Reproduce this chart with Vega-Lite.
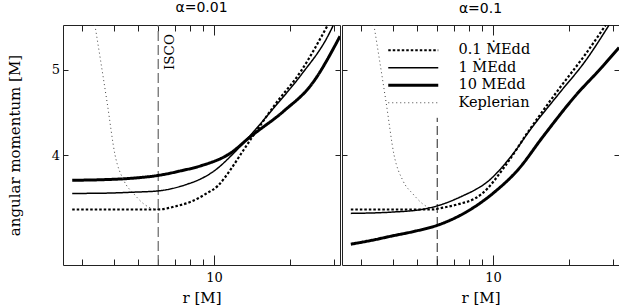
{
  "$schema": "https://vega.github.io/schema/vega-lite/v6.json",
  "background": "white",
  "padding": {"left": 7, "top": 1, "right": 0, "bottom": 0},
  "spacing": 0,
  "datasets": {
    "curves": [
      {"p": "L", "s": "0.1", "r": 2.733, "l": 3.469},
      {"p": "L", "s": "0.1", "r": 4.257, "l": 3.469},
      {"p": "L", "s": "0.1", "r": 6.0, "l": 3.469},
      {"p": "L", "s": "0.1", "r": 7.05, "l": 3.499},
      {"p": "L", "s": "0.1", "r": 8.091, "l": 3.54},
      {"p": "L", "s": "0.1", "r": 9.284, "l": 3.615},
      {"p": "L", "s": "0.1", "r": 10.36, "l": 3.692},
      {"p": "L", "s": "0.1", "r": 11.68, "l": 3.859},
      {"p": "L", "s": "0.1", "r": 12.8, "l": 4.014},
      {"p": "L", "s": "0.1", "r": 14.03, "l": 4.175},
      {"p": "L", "s": "0.1", "r": 17.33, "l": 4.553},
      {"p": "L", "s": "0.1", "r": 22.19, "l": 4.989},
      {"p": "L", "s": "0.1", "r": 28.18, "l": 5.613},
      {"p": "L", "s": "1", "r": 2.733, "l": 3.618},
      {"p": "L", "s": "1", "r": 3.543, "l": 3.62},
      {"p": "L", "s": "1", "r": 4.667, "l": 3.629},
      {"p": "L", "s": "1", "r": 6.034, "l": 3.643},
      {"p": "L", "s": "1", "r": 7.849, "l": 3.708},
      {"p": "L", "s": "1", "r": 8.875, "l": 3.76},
      {"p": "L", "s": "1", "r": 10.02, "l": 3.839},
      {"p": "L", "s": "1", "r": 12.04, "l": 4.028},
      {"p": "L", "s": "1", "r": 13.77, "l": 4.197},
      {"p": "L", "s": "1", "r": 17.37, "l": 4.535},
      {"p": "L", "s": "1", "r": 22.19, "l": 4.937},
      {"p": "L", "s": "1", "r": 28.35, "l": 5.467},
      {"p": "L", "s": "1", "r": 29.69, "l": 5.613},
      {"p": "L", "s": "10", "r": 2.733, "l": 3.745},
      {"p": "L", "s": "10", "r": 3.543, "l": 3.75},
      {"p": "L", "s": "10", "r": 4.667, "l": 3.764},
      {"p": "L", "s": "10", "r": 6.034, "l": 3.794},
      {"p": "L", "s": "10", "r": 7.387, "l": 3.839},
      {"p": "L", "s": "10", "r": 8.875, "l": 3.89},
      {"p": "L", "s": "10", "r": 11.68, "l": 4.025},
      {"p": "L", "s": "10", "r": 13.77, "l": 4.186},
      {"p": "L", "s": "10", "r": 18.99, "l": 4.493},
      {"p": "L", "s": "10", "r": 24.33, "l": 4.81},
      {"p": "L", "s": "10", "r": 31.62, "l": 5.46},
      {"p": "B", "s": "Keplerian", "r": 3.363, "l": 5.623},
      {"p": "B", "s": "Keplerian", "r": 3.543, "l": 5.122},
      {"p": "B", "s": "Keplerian", "r": 3.768, "l": 4.573},
      {"p": "B", "s": "Keplerian", "r": 4.041, "l": 4.004},
      {"p": "B", "s": "Keplerian", "r": 4.387, "l": 3.74},
      {"p": "B", "s": "Keplerian", "r": 4.81, "l": 3.612},
      {"p": "B", "s": "Keplerian", "r": 5.272, "l": 3.518},
      {"p": "B", "s": "Keplerian", "r": 5.779, "l": 3.473},
      {"p": "B", "s": "Keplerian", "r": 6.0, "l": 3.469},
      {"p": "R", "s": "0.1", "r": 2.723, "l": 3.469},
      {"p": "R", "s": "0.1", "r": 4.0, "l": 3.469},
      {"p": "R", "s": "0.1", "r": 5.709, "l": 3.469},
      {"p": "R", "s": "0.1", "r": 6.26, "l": 3.484},
      {"p": "R", "s": "0.1", "r": 7.293, "l": 3.518},
      {"p": "R", "s": "0.1", "r": 8.492, "l": 3.572},
      {"p": "R", "s": "0.1", "r": 9.031, "l": 3.615},
      {"p": "R", "s": "0.1", "r": 11.18, "l": 3.89},
      {"p": "R", "s": "0.1", "r": 13.86, "l": 4.263},
      {"p": "R", "s": "0.1", "r": 18.26, "l": 4.756},
      {"p": "R", "s": "0.1", "r": 23.3, "l": 5.212},
      {"p": "R", "s": "0.1", "r": 27.99, "l": 5.623},
      {"p": "R", "s": "1", "r": 2.723, "l": 3.434},
      {"p": "R", "s": "1", "r": 3.993, "l": 3.446},
      {"p": "R", "s": "1", "r": 5.209, "l": 3.47},
      {"p": "R", "s": "1", "r": 5.996, "l": 3.502},
      {"p": "R", "s": "1", "r": 7.749, "l": 3.606},
      {"p": "R", "s": "1", "r": 8.492, "l": 3.653},
      {"p": "R", "s": "1", "r": 9.605, "l": 3.74},
      {"p": "R", "s": "1", "r": 10.36, "l": 3.819},
      {"p": "R", "s": "1", "r": 12.26, "l": 4.046},
      {"p": "R", "s": "1", "r": 13.86, "l": 4.252},
      {"p": "R", "s": "1", "r": 18.26, "l": 4.698},
      {"p": "R", "s": "1", "r": 23.3, "l": 5.122},
      {"p": "R", "s": "1", "r": 28.88, "l": 5.623},
      {"p": "R", "s": "10", "r": 2.723, "l": 3.168},
      {"p": "R", "s": "10", "r": 3.293, "l": 3.2},
      {"p": "R", "s": "10", "r": 3.993, "l": 3.238},
      {"p": "R", "s": "10", "r": 4.884, "l": 3.277},
      {"p": "R", "s": "10", "r": 5.996, "l": 3.328},
      {"p": "R", "s": "10", "r": 7.749, "l": 3.441},
      {"p": "R", "s": "10", "r": 10.06, "l": 3.625},
      {"p": "R", "s": "10", "r": 12.65, "l": 3.859},
      {"p": "R", "s": "10", "r": 15.66, "l": 4.186},
      {"p": "R", "s": "10", "r": 21.26, "l": 4.674},
      {"p": "R", "s": "10", "r": 27.16, "l": 5.042},
      {"p": "R", "s": "10", "r": 31.62, "l": 5.3}
    ],
    "isco": [
      {"p": "L", "r": 6, "lo": 3, "hi": 5.623, "label": "ISCO"},
      {"p": "R", "r": 6, "lo": 3, "hi": 4.41, "label": ""}
    ]
  },
  "config": {
    "view": {"stroke": null},
    "font": "DejaVu Serif",
    "axis": {
      "domainColor": "#222",
      "domainWidth": 1,
      "tickColor": "#222",
      "tickWidth": 1,
      "labelColor": "#000",
      "titleColor": "#000",
      "labelFont": "DejaVu Serif",
      "titleFont": "DejaVu Serif",
      "labelFontSize": 13,
      "titleFontSize": 15,
      "titleFontWeight": "normal",
      "grid": false
    },
    "title": {"font": "DejaVu Sans", "fontSize": 14, "fontWeight": "normal", "offset": 9, "color": "#000"}
  },
  "resolve": {"scale": {"strokeDash": "independent", "strokeWidth": "independent", "color": "independent"}},
  "hconcat": [
    {
      "width": 277,
      "height": 240,
      "title": "α=0.01",
      "resolve": {"axis": {"x": "independent", "y": "independent"}},
      "layer": [
        {
          "data": {"name": "isco"},
          "transform": [{"filter": "datum.p == 'L'"}],
          "mark": {"type": "rule", "strokeDash": [10, 4], "color": "#666", "strokeWidth": 1.2},
          "encoding": {
            "x": {"field": "r", "type": "quantitative", "scale": {"type": "log", "domain": [2.512, 31.62], "nice": false},
              "axis": {"orient": "top", "values": [3, 4, 5, 6, 7, 8, 9, 10, 20, 30], "labels": false, "title": null,
                "tickSize": {"condition": {"test": "datum.value == 10", "value": -10}, "value": -6}}},
            "y": {"field": "lo", "type": "quantitative", "scale": {"type": "log", "domain": [3, 5.623], "nice": false},
              "axis": {"orient": "right", "values": [4, 5], "labels": false, "title": null, "tickSize": -5}},
            "y2": {"field": "hi"}
          }
        },
        {
          "data": {"name": "isco"},
          "transform": [{"filter": "datum.p == 'L'"}],
          "mark": {"type": "text", "angle": 270, "align": "right", "baseline": "middle", "dx": -9, "dy": 12, "font": "DejaVu Serif", "fontSize": 13.5, "color": "#000"},
          "encoding": {
            "x": {"field": "r", "type": "quantitative", "axis": null},
            "y": {"field": "hi", "type": "quantitative", "axis": null},
            "text": {"field": "label"}
          }
        },
        {
          "data": {"name": "curves"},
          "transform": [{"filter": "datum.p == 'L' || datum.p == 'B'"}],
          "mark": {"type": "line", "interpolate": "monotone", "clip": true},
          "encoding": {
            "x": {"field": "r", "type": "quantitative",
              "axis": {"orient": "bottom", "values": [3, 4, 5, 6, 7, 8, 9, 10, 20, 30], "labelExpr": "datum.value == 10 ? '10' : ''",
                "tickSize": {"condition": {"test": "datum.value == 10", "value": -10}, "value": -6}, "labelPadding": 16.5, "title": "r  [M]", "titlePadding": 5.5}},
            "y": {"field": "l", "type": "quantitative",
              "axis": {"orient": "left", "values": [4, 5], "format": "d", "tickSize": -5, "labelPadding": 8.5, "title": "angular momentum [M]", "titlePadding": 28.5}},
            "color": {"field": "s", "type": "nominal", "scale": {"domain": ["0.1", "1", "10", "Keplerian"], "range": ["#000", "#000", "#000", "#444"]}, "legend": null},
            "strokeDash": {"field": "s", "type": "nominal", "scale": {"domain": ["0.1", "1", "10", "Keplerian"], "range": [[2.5, 2], [1, 0], [1, 0], [1, 3]]}, "legend": null},
            "strokeWidth": {"field": "s", "type": "nominal", "scale": {"type": "ordinal", "domain": ["0.1", "1", "10", "Keplerian"], "range": [2.2, 1.5, 3, 1]}, "legend": null}
          }
        }
      ]
    },
    {
      "width": 277,
      "height": 240,
      "title": "α=0.1",
      "resolve": {"axis": {"x": "independent", "y": "independent"}},
      "layer": [
        {
          "data": {"name": "isco"},
          "transform": [{"filter": "datum.p == 'R'"}],
          "mark": {"type": "rule", "strokeDash": [9, 4], "color": "#222", "strokeWidth": 1},
          "encoding": {
            "x": {"field": "r", "type": "quantitative", "scale": {"type": "log", "domain": [2.512, 31.62], "nice": false},
              "axis": {"orient": "top", "values": [3, 4, 5, 6, 7, 8, 9, 10, 20, 30], "labels": false, "title": null,
                "tickSize": {"condition": {"test": "datum.value == 10", "value": -10}, "value": -6}}},
            "y": {"field": "lo", "type": "quantitative", "scale": {"type": "log", "domain": [3, 5.623], "nice": false},
              "axis": {"orient": "right", "values": [4, 5], "labels": false, "title": null, "tickSize": -5}},
            "y2": {"field": "hi"}
          }
        },
        {
          "data": {"name": "curves"},
          "transform": [{"filter": "datum.p == 'R' || datum.p == 'B'"}],
          "mark": {"type": "line", "interpolate": "monotone", "clip": true},
          "encoding": {
            "x": {"field": "r", "type": "quantitative",
              "axis": {"orient": "bottom", "values": [3, 4, 5, 6, 7, 8, 9, 10, 20, 30], "labelExpr": "datum.value == 10 ? '10' : ''",
                "tickSize": {"condition": {"test": "datum.value == 10", "value": -10}, "value": -6}, "labelPadding": 16.5, "title": "r  [M]", "titlePadding": 5.5}},
            "y": {"field": "l", "type": "quantitative",
              "axis": {"orient": "left", "values": [4, 5], "labels": false, "tickSize": -5, "title": null}},
            "color": {"field": "s", "type": "nominal", "scale": {"domain": ["0.1", "1", "10", "Keplerian"], "range": ["#000", "#000", "#000", "#444"]},
              "legend": {"orient": "none", "legendX": 64, "legendY": 18, "title": null, "symbolType": "M-25,0H25", "symbolSize": 4, "labelFont": "DejaVu Serif", "labelFontSize": 14.5, "labelColor": "#000", "labelOffset": 38, "rowPadding": 2.5, "padding": 0,
                "labelExpr": "datum.label == 'Keplerian' ? 'Keplerian' : (datum.label == '10' ? '10  MEdd' : datum.label + '  ṀEdd')"}},
            "strokeDash": {"field": "s", "type": "nominal", "scale": {"domain": ["0.1", "1", "10", "Keplerian"], "range": [[2.5, 2], [1, 0], [1, 0], [1, 3]]},
              "legend": {"orient": "none", "legendX": 64, "legendY": 18, "title": null, "symbolType": "M-25,0H25", "symbolSize": 4, "labelFont": "DejaVu Serif", "labelFontSize": 14.5, "labelColor": "#000", "labelOffset": 38, "rowPadding": 2.5, "padding": 0,
                "labelExpr": "datum.label == 'Keplerian' ? 'Keplerian' : (datum.label == '10' ? '10  MEdd' : datum.label + '  ṀEdd')"}},
            "strokeWidth": {"field": "s", "type": "nominal", "scale": {"type": "ordinal", "domain": ["0.1", "1", "10", "Keplerian"], "range": [2.2, 1.5, 3, 1]},
              "legend": {"orient": "none", "legendX": 64, "legendY": 18, "title": null, "symbolType": "M-25,0H25", "symbolSize": 4, "labelFont": "DejaVu Serif", "labelFontSize": 14.5, "labelColor": "#000", "labelOffset": 38, "rowPadding": 2.5, "padding": 0,
                "labelExpr": "datum.label == 'Keplerian' ? 'Keplerian' : (datum.label == '10' ? '10  MEdd' : datum.label + '  ṀEdd')"}}
          }
        }
      ]
    }
  ]
}
